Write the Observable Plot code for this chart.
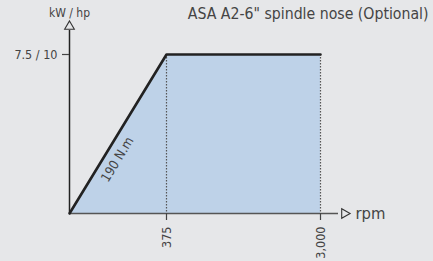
<!DOCTYPE html>
<html><head><meta charset="utf-8">
<script src="https://cdn.jsdelivr.net/npm/d3@7"></script>
<script src="https://cdn.jsdelivr.net/npm/@observablehq/plot@0.6"></script>
<style>
html,body{margin:0;padding:0;background:#e6e7e9;}
svg{display:block;}
</style></head><body>
<div id="chart"></div>
<script>
const rpm = [0, 375, 3000];
const power = [0, 7.5, 7.5];
const xTicks = [375, 3000];
const xTickLabels = ["375", "3,000"];
const yTicks = [7.5];
const yTickLabels = ["7.5 / 10"];
const torqueLabel = "190 N.m";
const xAxisLabel = "rpm";
const yAxisLabel = "kW / hp";
const title = "ASA A2-6\" spindle nose (Optional)";

const data = rpm.map((r, i) => ({rpm: r, power: power[i]}));
const font = "'Liberation Sans Narrow', 'DejaVu Sans Condensed', sans-serif";
const bg = "#e6e7e9";
const lastX = rpm[rpm.length - 1];
const topY = power[1];
// schematic (non-linear) rpm axis, as drawn in the original
const schematic = d3.scaleLinear().domain([0, 375, 3000]).range([0, 97, 251]);
const t = 0.34;
const lab = {rpm: rpm[0] + t * (rpm[1] - rpm[0]), power: power[0] + t * (power[1] - power[0])};

const chart = Plot.plot({
  width: 433, height: 261,
  marginLeft: 69, marginRight: 5, marginTop: 54, marginBottom: 48,
  style: {background: bg, fontFamily: font, color: "#444"},
  x: {transform: schematic, domain: [0, 251], range: [69, 320]},
  y: {domain: [0, 7.5], range: [213, 54]},
  marks: [
    Plot.areaY(data, {x: "rpm", y: "power", fill: "#bed2e8"}),
    Plot.ruleX(xTicks, {x: d => d, y1: topY, y2: 0, stroke: "#555", strokeWidth: 1.2, strokeDasharray: "1.5,1.5"}),
    Plot.ruleY([0], {x1: 0, x2: lastX, stroke: "#555", strokeWidth: 1.5, insetRight: -18}),
    Plot.dot([lastX], {x: d => d, y: 0, dx: 24, symbol: "triangle", rotate: 90, r: 3.6, fill: bg, stroke: "#333", strokeWidth: 1.1}),
    Plot.text([xAxisLabel], {x: lastX, y: 0, dx: 35, text: d => d, textAnchor: "start", fontSize: 16.5, fill: "#444"}),
    Plot.ruleX([0], {y1: topY, y2: 0, stroke: "#222", strokeWidth: 1.5, insetTop: -24}),
    Plot.dot([0], {x: d => d, y: topY, dy: -28, symbol: "triangle", r: 3.6, fill: bg, stroke: "#333", strokeWidth: 1.1}),
    Plot.text([yAxisLabel], {x: 0, y: topY, dy: -41, text: d => d, fontSize: 12, fill: "#444"}),
    Plot.line(data, {x: "rpm", y: "power", stroke: "#222", strokeWidth: 2.6}),
    Plot.text([lab], {x: "rpm", y: "power", text: () => torqueLabel, rotate: -58.6, dx: 15, dy: 0, fontSize: 13, fill: "#444"}),
    Plot.axisX(xTicks, {tickSize: 7, tickPadding: 6, tickRotate: -90, tickFormat: d => xTickLabels[xTicks.indexOf(d)], fontSize: 12.5, stroke: "#444", fill: "#444", strokeWidth: 1.2, label: null}),
    Plot.axisY(yTicks, {tickSize: 7, tickPadding: 5, tickFormat: d => yTickLabels[yTicks.indexOf(d)], fontSize: 12.5, stroke: "#444", fill: "#444", strokeWidth: 1.2, label: null}),
    Plot.text([title], {frameAnchor: "top-right", dy: -47, text: d => d, fontSize: 15.7, fill: "#444", textAnchor: "end"})
  ]
});
document.getElementById("chart").appendChild(chart);
</script>
</body></html>
